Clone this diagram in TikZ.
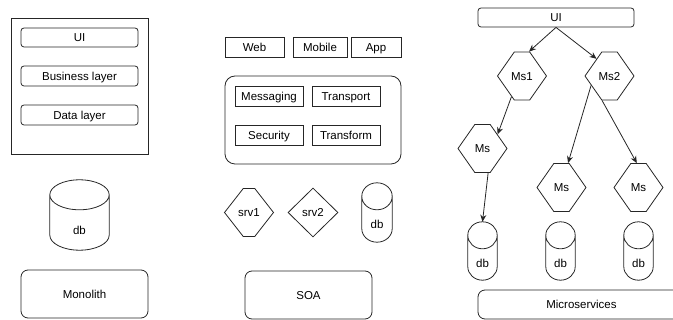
\documentclass[tikz,border=0pt]{standalone}
\usepackage{fontspec}
\setmainfont{Liberation Sans}
\usetikzlibrary{arrows.meta, calc, shapes.geometric, shapes.symbols}

\newcommand{\tight}[1]{\makebox[0pt]{#1}}

\tikzset{
  line/.style={draw=black!85, line width=0.8pt},
  box/.style={line, rectangle, inner sep=0pt},
  rbox/.style={box, rounded corners=#1},
  rbox/.default=3pt,
  hexa/.style={line, signal, signal to=east and west, signal pointer angle=#1,
    inner sep=0pt, minimum width=49, minimum height=48},
  hexa/.default=110,
  dbase/.style={rectangle, inner sep=0pt, label={[yshift=-#1]center:db}},
  arr/.style={line, -{Stealth[length=7pt, width=6pt]}}
}

\begin{document}
\begin{tikzpicture}[x=1pt, y=-1pt, font=\fontsize{11.5}{13}\selectfont,
    every node/.style={text height=8.2pt, text depth=0pt}]
  \useasboundingbox (0,0) rectangle (673,320);

  % monolith
  \node[box, minimum width=137, minimum height=136] (mframe) at (79.5,86) {}; % outer frame
  \node[rbox, minimum width=117, minimum height=19] (mui) at (79.5,37.5) {UI};
  \node[rbox, minimum width=117, minimum height=20] (mbiz) at (79.5,76) {Business layer};
  \node[rbox, minimum width=117, minimum height=20] (mdata) at (79.5,115) {Data layer};
  \node[dbase=15pt, minimum width=59, minimum height=70] (mdb) at (79.5,215) {};
  \node[rbox=7pt, minimum width=127, minimum height=48] (mono) at (84.5,294) {Monolith};

  % soa
  \node[box, minimum width=59, minimum height=20] (web) at (254.5,47) {Web};
  \node[box, minimum width=54, minimum height=20] (mobile) at (320,47) {Mobile};
  \node[box, minimum width=50, minimum height=20] (app) at (376,47) {App};
  \node[rbox=10pt, minimum width=176, minimum height=88] (bus) at (313,120) {}; % service bus
  \node[box, minimum width=68, minimum height=20] (msg) at (269,96) {Messaging};
  \node[box, minimum width=68, minimum height=20] (transp) at (346,96) {Transport};
  \node[box, minimum width=68, minimum height=20] (secur) at (269,135) {Security};
  \node[box, minimum width=68, minimum height=20] (transf) at (346,135) {Transform};
  \node[hexa=104] (srv1) at (249,212.5) {\tight{srv1}};
  \node[line, diamond, inner sep=0pt, minimum width=50, minimum height=49] (srv2) at (313,212.5) {\tight{srv2}};
  \node[dbase=11.5pt, minimum width=30, minimum height=59] (sdb) at (377,212.5) {};
  \node[rbox=7pt, minimum width=127, minimum height=48] (soa) at (308.5,295) {SOA};

  % microservices
  \node[rbox, minimum width=156, minimum height=19] (ui) at (556,17.5) {UI};
  \node[hexa] (ms1) at (522,76) {\tight{Ms1}};
  \node[hexa] (ms2) at (609.5,76) {\tight{Ms2}};
  \node[hexa] (msa) at (482.5,148.5) {\tight{Ms}};
  \node[hexa] (msb) at (561.5,187.5) {\tight{Ms}};
  \node[hexa] (msc) at (638.5,187.5) {\tight{Ms}};
  \node[dbase=12pt, minimum width=29, minimum height=58] (dba) at (482.5,251) {};
  \node[dbase=12pt, minimum width=29, minimum height=58] (dbb) at (560.5,251) {};
  \node[dbase=12pt, minimum width=29, minimum height=58] (dbc) at (638.5,251) {};
  \node[rbox=7pt, minimum width=207, minimum height=29] (micro) at (581.5,304.5) {Microservices};

  % cylinders round the db nodes
  \foreach \d/\r in {mdb/15pt, sdb/13.5pt, dba/13.5pt, dbb/13.5pt, dbc/13.5pt}
    \draw[line] let \p1=(\d.north west), \p2=(\d.south east), \n1={(\x2-\x1)/2} in
      (\x1,\y1-\r) arc[start angle=180, end angle=-180, x radius=\n1, y radius=\r]
      (\x1,\y1-\r) -- (\x1,\y2+\r) arc[start angle=180, end angle=360, x radius=\n1, y radius=\r]
      -- (\x2,\y1-\r);

  \draw[arr] (ui.south) -- (ms1.74);
  \draw[arr] (ui.south) -- (ms2.127);
  \draw[arr] (ms1.243) -- (msa.43);
  \draw[arr] (ms2.207) -- (msb.75);
  \draw[arr] (ms2.253) -- (msc.94);
  \draw[arr] (msa.283) -- (dba.north);
\end{tikzpicture}
\end{document}
